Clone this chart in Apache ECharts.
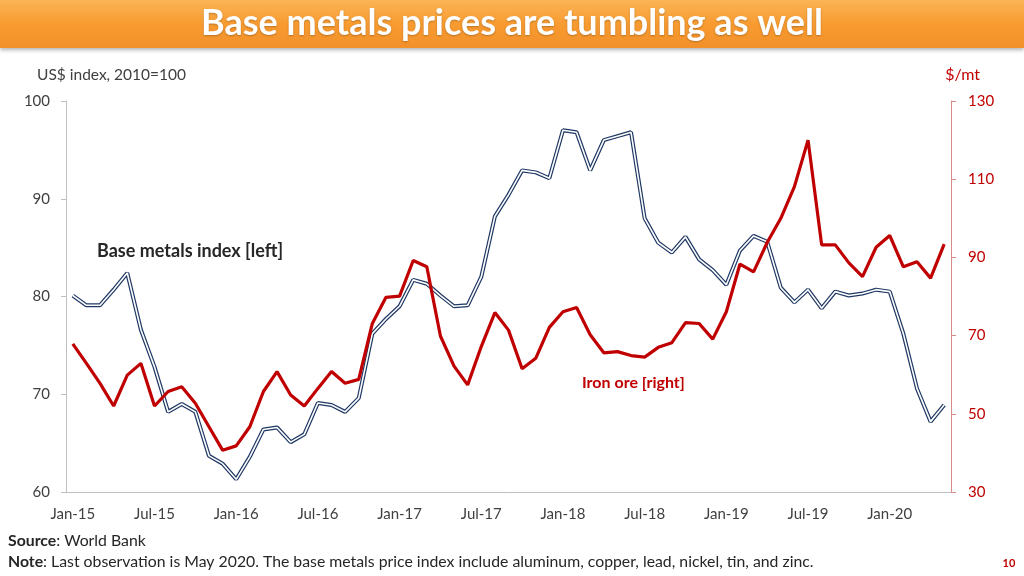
<!DOCTYPE html>
<html><head><meta charset="utf-8">
<script src="https://cdn.jsdelivr.net/npm/echarts@6/dist/echarts.min.js"></script>
<style>html,body{margin:0;padding:0;background:#fff}#c{width:1024px;height:576px}</style>
</head><body><div id="c"></div>
<script>
const months = ['Jan','Feb','Mar','Apr','May','Jun','Jul','Aug','Sep','Oct','Nov','Dec'];
const categories = [];
for (let y = 15; y <= 20; y++) for (let m = 0; m < 12; m++) { if (y === 20 && m > 4) break; categories.push(months[m] + '-' + y); }
const baseMetals = [80.1,79.1,79.1,80.7,82.4,76.6,72.8,68.2,69.0,68.2,63.7,62.9,
  61.3,63.6,66.4,66.6,65.1,65.9,69.1,68.9,68.2,69.6,76.2,77.7,
  79.0,81.7,81.3,80.1,79.0,79.1,82.0,88.2,90.4,92.9,92.7,92.1,
  97.0,96.8,92.9,96.0,96.4,96.8,88.0,85.5,84.5,86.1,83.8,82.7,
  81.2,84.7,86.2,85.6,80.9,79.4,80.7,78.8,80.5,80.1,80.3,80.7,
  80.5,76.2,70.6,67.2,68.9];
const ironOre = [67.9,62.9,57.8,52.0,59.9,62.9,52.0,55.7,56.9,52.7,46.7,40.7,
  41.8,46.7,55.7,60.8,54.8,52.0,56.5,60.8,57.8,58.8,73.1,79.8,
  80.1,89.2,87.6,69.9,62.2,57.4,67.2,75.9,71.4,61.5,64.2,72.1,
  76.1,77.2,70.2,65.6,65.9,64.9,64.5,67.0,68.2,73.3,73.1,69.1,
  76.1,88.3,86.3,93.8,100.0,108.1,120.0,93.2,93.2,88.6,85.1,92.6,
  95.6,87.6,88.9,84.7,93.4];
const titleText = 'Base metals prices are tumbling as well';
const leftAxisName = 'US$ index, 2010=100';
const rightAxisName = '$/mt';
const F = 'Lato, "Open Sans", sans-serif';

const chart = echarts.init(document.getElementById('c'));
chart.setOption({
  animation: false,
  backgroundColor: '#fff',
  grid: { left: 66, right: 73, top: 101, bottom: 84, containLabel: false },
  xAxis: {
    type: 'category', data: categories, boundaryGap: true,
    axisLine: { lineStyle: { color: '#BFBFBF', width: 1 } },
    axisTick: { interval: 5, length: 5, lineStyle: { color: '#BFBFBF' } },
    axisLabel: { interval: 5, color: '#404040', fontFamily: F, fontSize: 15, margin: 15 }
  },
  yAxis: [
    { type: 'value', min: 60, max: 100, interval: 10, position: 'left',
      axisLine: { show: true, lineStyle: { color: '#BFBFBF' } },
      axisTick: { show: true, inside: false, length: 5, lineStyle: { color: '#BFBFBF' } },
      splitLine: { show: false },
      axisLabel: { color: '#404040', fontFamily: F, fontSize: 15, margin: 16 } },
    { type: 'value', min: 30, max: 130, interval: 20, position: 'right',
      axisLine: { show: true, lineStyle: { color: '#D98A8A' } },
      axisTick: { show: true, length: 5, lineStyle: { color: '#D98A8A' } },
      splitLine: { show: false },
      axisLabel: { color: '#C00000', fontFamily: F, fontSize: 15, margin: 17 } }
  ],
  series: [
    { name: 'Base metals outer', type: 'line', data: baseMetals, yAxisIndex: 0, showSymbol: false,
      lineStyle: { color: '#1F3864', width: 4 }, z: 2, silent: true },
    { name: 'Base metals inner', type: 'line', data: baseMetals, yAxisIndex: 0, showSymbol: false,
      lineStyle: { color: '#ffffff', width: 1.6 }, z: 3, silent: true },
    { name: 'Iron ore', type: 'line', data: ironOre, yAxisIndex: 1, showSymbol: false,
      lineStyle: { color: '#C00000', width: 3.2 }, z: 4, silent: true }
  ],
  graphic: [
    { type: 'rect', shape: { x: 0, y: 0, width: 1024, height: 48 }, z: 10,
      style: { fill: new echarts.graphic.LinearGradient(0, 0, 0, 1, [
        { offset: 0, color: '#FBB456' }, { offset: 0.5, color: '#F89B30' }, { offset: 1, color: '#F2902A' }]),
        shadowBlur: 4, shadowOffsetY: 2, shadowColor: 'rgba(0,0,0,0.3)' } },
    { type: 'text', x: 512, y: 23, z: 11,
      style: { text: titleText, fill: '#fff', font: 'bold 36px ' + F, align: 'center', verticalAlign: 'middle',
        textShadowColor: 'rgba(0,0,0,0.25)', textShadowBlur: 2, textShadowOffsetY: 1 } },
    { type: 'text', x: 37, y: 75, z: 11,
      style: { text: leftAxisName, fill: '#404040', font: '15.5px ' + F, verticalAlign: 'middle' } },
    { type: 'text', x: 980, y: 75, z: 11,
      style: { text: rightAxisName, fill: '#C00000', font: '16px ' + F, align: 'right', verticalAlign: 'middle' } },
    { type: 'text', x: 97, y: 251, z: 11,
      style: { text: 'Base metals index [left]', fill: '#262626', font: 'bold 18px ' + F, verticalAlign: 'middle' } },
    { type: 'text', x: 582, y: 383, z: 11,
      style: { text: 'Iron ore [right]', fill: '#C00000', font: 'bold 16px ' + F, verticalAlign: 'middle' } },
    { type: 'text', x: 8, y: 541, z: 11,
      style: { text: '{b|Source}: World Bank', rich: { b: { fontWeight: 'bold', fontFamily: F, fontSize: 15.8, fill: '#262626' } },
        fill: '#262626', font: '15.8px ' + F, verticalAlign: 'middle' } },
    { type: 'text', x: 8, y: 562, z: 11,
      style: { text: '{b|Note}: Last observation is May 2020. The base metals price index include aluminum, copper, lead, nickel, tin, and zinc.',
        rich: { b: { fontWeight: 'bold', fontFamily: F, fontSize: 15.8, fill: '#262626' } },
        fill: '#262626', font: '15.8px ' + F, verticalAlign: 'middle' } },
    { type: 'text', x: 1009, y: 563, z: 11,
      style: { text: '10', fill: '#C00000', font: 'bold 11px ' + F, align: 'center', verticalAlign: 'middle' } }
  ]
});
</script></body></html>
